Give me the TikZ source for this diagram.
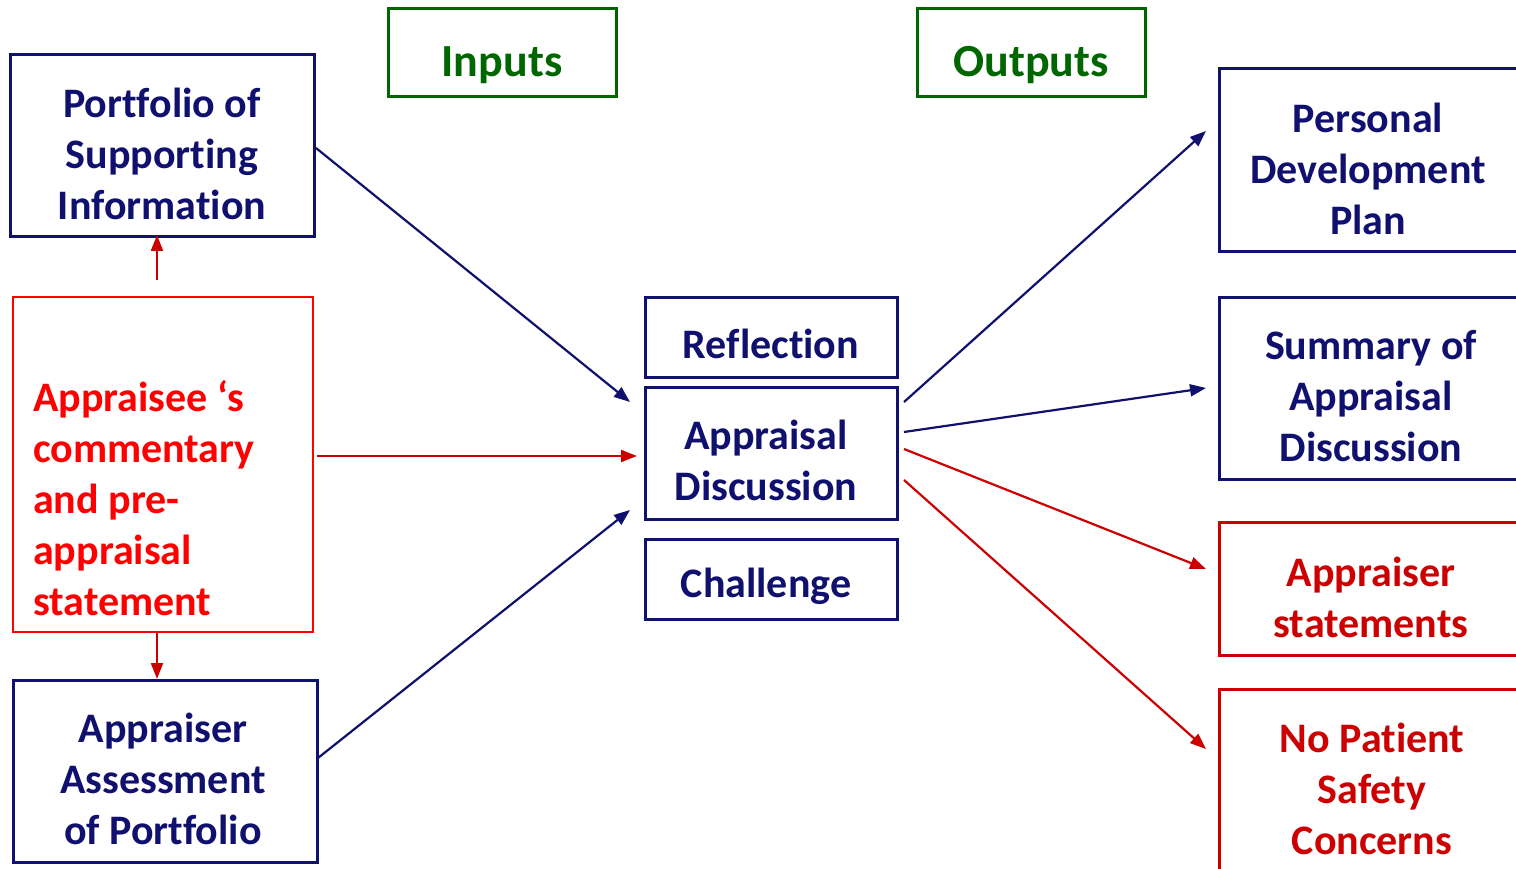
\documentclass[tikz,border=0pt]{standalone}
\usepackage{fontspec}
\setmainfont{Carlito}[RawFeature=-liga]
\usetikzlibrary{arrows.meta}
\definecolor{navy}{RGB}{16,16,110}
\definecolor{brightred}{RGB}{255,0,0}
\definecolor{darkred}{RGB}{204,0,0}
\definecolor{dgreen}{RGB}{0,102,0}
\tikzset{
  box/.style={draw, rectangle, inner sep=0pt, outer sep=0pt},
  navybox/.style={box, draw=navy, line width=3pt},
  redbox/.style={box, draw=darkred, line width=3pt},
  thinred/.style={box, draw=brightred, line width=1.5pt},
  greenbox/.style={box, draw=dgreen, line width=3pt},
  txt/.style={font=\fontsize{42}{51}\selectfont\bfseries, align=center, inner sep=0pt},
  head/.style={font=\fontsize{46}{55}\selectfont\bfseries, text=dgreen, inner sep=0pt},
  arr/.style={line width=2.2pt, -{Triangle[length=16pt,width=12pt]}},
}
\begin{document}
\begin{tikzpicture}[x=1pt,y=-1pt]
\useasboundingbox (0,0) rectangle (1516,869);
\clip (0,0) rectangle (1516,869);
\fill[white] (0,0) rectangle (1516,869);

% input side
\node[navybox, minimum width=304pt, minimum height=182pt] (port) at (162,146) {};
\node[txt, text=navy] at (162,154) {Portfolio of\\Supporting\\Information};
\node[thinred, minimum width=300pt, minimum height=335pt] (comm) at (163,464.5) {};
\node[txt, text=brightred, align=left, anchor=west] at (33,498) {Appraisee ‘s\\commentary\\and pre-\\appraisal\\statement};
\node[navybox, minimum width=304pt, minimum height=182pt] (assess) at (165,771) {};
\node[txt, text=navy] at (163,779) {Appraiser\\Assessment\\of Portfolio};

% headings
\node[greenbox, minimum width=228pt, minimum height=88pt] (inbox) at (502,53) {};
\node[head] at (502,65) {Inputs};
\node[greenbox, minimum width=228pt, minimum height=88pt] (outbox) at (1031,53) {};
\node[head] at (1031,65) {Outputs};

% centre column
\node[navybox, minimum width=252pt, minimum height=80pt] (refl) at (771,337) {};
\node[txt, text=navy] at (771,344) {Reflection};
\node[navybox, minimum width=252pt, minimum height=132pt] (ad) at (771,453) {};
\node[txt, text=navy] at (766,460) {Appraisal\\Discussion};
\node[navybox, minimum width=252pt, minimum height=80pt] (chal) at (771,579) {};
\node[txt, text=navy] at (766,586) {Challenge};

% output side
\node[navybox, minimum width=311pt, minimum height=183pt] (pdp) at (1374.5,160.5) {};
\node[txt, text=navy] at (1368,169) {Personal\\Development\\Plan};
\node[navybox, minimum width=311pt, minimum height=182pt] (summ) at (1374.5,388) {};
\node[txt, text=navy] at (1371,396) {Summary of\\Appraisal\\Discussion};
\node[redbox, minimum width=311pt, minimum height=133pt] (astat) at (1374.5,588.5) {};
\node[txt, text=darkred] at (1371,597) {Appraiser\\statements};
\node[redbox, minimum width=311pt, minimum height=211pt] (nps) at (1374.5,794.5) {};
\node[txt, text=darkred] at (1372,789) {No Patient\\Safety\\Concerns};

% connector end points
\coordinate (inA) at (630,402);
\coordinate (inB) at (637,456);
\coordinate (inC) at (630,510);
\coordinate (outA) at (904,402);
\coordinate (outB) at (904,432);
\coordinate (outC) at (904,449);
\coordinate (outD) at (904,480);
\coordinate (toPdp) at (1206,131);
\coordinate (toSumm) at (1206,388);
\coordinate (toAstat) at (1206,569);
\coordinate (toNps) at (1206,749);
\coordinate (commTop) at (157,280);
\coordinate (portBot) at (157,235);
\coordinate (commBot) at (157,633);
\coordinate (assessTop) at (157,679);

% inputs into the discussion
\draw[arr, navy] ([shift={(2,2)}]port.east) -- (inA);
\draw[arr, darkred] ([shift={(4,-8.5)}]comm.east) -- (inB);
\draw[arr, navy] ([shift={(1,-13)}]assess.east) -- (inC);

% outputs of the discussion
\draw[arr, navy] (outA) -- (toPdp);
\draw[arr, navy] (outB) -- (toSumm);
\draw[arr, darkred] (outC) -- (toAstat);
\draw[arr, darkred] (outD) -- (toNps);

% commentary feeds both left boxes
\draw[arr, darkred] (commTop) -- (portBot);
\draw[arr, darkred] (commBot) -- (assessTop);
\end{tikzpicture}
\end{document}
